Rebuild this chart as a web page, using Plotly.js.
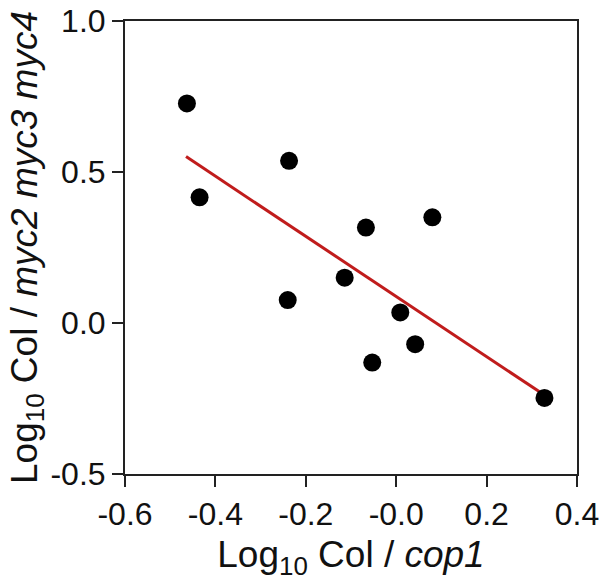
<!DOCTYPE html>
<html>
<head>
<meta charset="utf-8">
<script src="https://cdn.plot.ly/plotly-3.0.1.min.js"></script>
<style>html,body{margin:0;padding:0;background:#fff;}#chart{width:603px;height:586px;}</style>
</head>
<body>
<div id="chart"></div>
<script>
// Scatter points: Log10 Col/cop1 (x) vs Log10 Col/myc2 myc3 myc4 (y)
const xCop1 = [-0.463, -0.435, -0.237, -0.240, -0.114, -0.067, 0.080, 0.009, 0.042, -0.053, 0.328];
const yMyc  = [0.727, 0.416, 0.537, 0.076, 0.150, 0.316, 0.350, 0.035, -0.070, -0.131, -0.248];
// Regression line endpoints
const fitX = [-0.465, 0.322];
const fitY = [0.551, -0.233];
// Axis ticks
const xTickVals = [-0.6, -0.4, -0.2, 0.0, 0.2, 0.4];
const xTickText = ['-0.6', '-0.4', '-0.2', '-0.0', '0.2', '0.4'];
const yTickVals = [-0.5, 0.0, 0.5, 1.0];
const yTickText = ['-0.5', '0.0', '0.5', '1.0'];

const font = 'Arial, "Liberation Sans", Helvetica, sans-serif';

const traces = [
  {
    x: fitX, y: fitY, type: 'scatter', mode: 'lines',
    line: {color: '#c01c1c', width: 3}, hoverinfo: 'skip'
  },
  {
    x: xCop1, y: yMyc, type: 'scatter', mode: 'markers',
    marker: {color: '#000', size: 18, line: {width: 0}}
  }
];

const axisCommon = {
  showgrid: false, zeroline: false, showline: true, mirror: true,
  linecolor: '#222', linewidth: 2,
  ticks: 'outside', ticklen: 11, tickwidth: 2, tickcolor: '#222',
  tickfont: {family: font, size: 32, color: '#111'}
};

const layout = {
  width: 603, height: 586,
  margin: {l: 125, r: 26, t: 21, b: 112},
  paper_bgcolor: '#fff', plot_bgcolor: '#fff',
  showlegend: false,
  xaxis: Object.assign({}, axisCommon, {
    range: [-0.6, 0.4], tickmode: 'array', tickvals: xTickVals, ticktext: xTickText,
    title: {text: 'Log<sub>10</sub> Col / <i>cop1</i>', font: {family: font, size: 37, color: '#111'}, standoff: 10}
  }),
  yaxis: Object.assign({}, axisCommon, {
    range: [-0.5, 1.0], tickmode: 'array', tickvals: yTickVals, ticktext: yTickText,
    title: {text: 'Log<sub>10</sub> Col / <i>myc2 myc3 myc4</i>', font: {family: font, size: 37, color: '#111'}, standoff: 2}
  })
};

Plotly.newPlot('chart', traces, layout, {displayModeBar: false, staticPlot: true});
</script>
</body>
</html>
